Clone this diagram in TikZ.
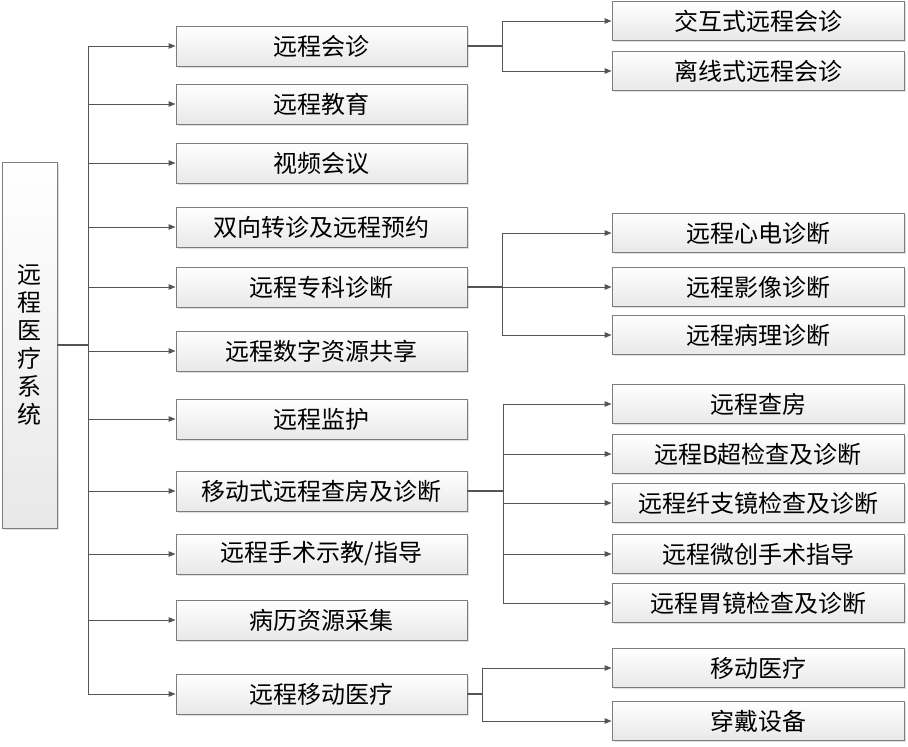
\documentclass[tikz,border=0pt]{standalone}
\usepackage{fontspec}
\newfontfamily\cjk{Noto Sans CJK SC}
\usetikzlibrary{arrows.meta,shadows}
\definecolor{cline}{RGB}{85,85,85}
\definecolor{cedge}{RGB}{125,125,125}
\tikzset{item/.style={draw=cedge,line width=0.9pt,top color=white,bottom color=black!9,
           minimum width=291pt,minimum height=40pt,inner sep=0pt,
           font=\cjk\fontsize{24}{28}\selectfont,
           drop shadow={shadow xshift=1.5pt,shadow yshift=-1.5pt,opacity=0.25}}}
\tikzset{link/.style={cline,line width=1pt,-{Triangle[length=7pt,width=5.5pt]}},
         trunk/.style={cline,line width=1.1pt}}

\begin{document}
\begin{tikzpicture}[x=1pt,y=-1pt]
    \useasboundingbox (0,0) rectangle (908,747);
    % root
    \node[item,minimum width=55pt,minimum height=366pt,align=center] (root) at (29.5,345)
        {远\\程\\医\\疗\\系\\统};
    % first level
    \foreach \y/\nm/\txt in {46/a/远程会诊, 104/b/远程教育, 163/c/视频会议,
        227/d/双向转诊及远程预约, 287/e/远程专科诊断, 351/f/远程数字资源共享,
        419/g/远程监护, 491/h/移动式远程查房及诊断, 554/i/{远程手术示教/指导},
        620/j/病历资源采集, 694/k/远程移动医疗}
      \node[item] (\nm) at (321.5,\y) {\txt};
    % second level
    \foreach \y/\nm/\txt in {21/a1/交互式远程会诊, 71/a2/离线式远程会诊,
        233/e1/远程心电诊断, 287/e2/远程影像诊断, 335/e3/远程病理诊断,
        404/h1/远程查房, 454/h2/远程B超检查及诊断, 503/h3/远程纤支镜检查及诊断,
        554/h4/远程微创手术指导, 603/h5/远程胃镜检查及诊断,
        668/k1/移动医疗, 721/k2/穿戴设备}
      \node[item,minimum width=292pt,minimum height=39pt] (\nm) at (758,\y) {\txt};
    % connectors
    \draw[trunk,line width=1.4pt] (root.east) -- ++(31,0) coordinate (t0);
    \draw[trunk] (t0 |- a.west) -- (t0 |- k.west);
    \foreach \nm in {a,b,c,d,e,f,g,h,i,j,k}
      \draw[link] (t0 |- \nm.west) -- (\nm.west);
    \draw[trunk] (a.east) -- ++(35,0) coordinate (ta);
    \draw[trunk] (ta |- a1.west) -- (ta |- a2.west);
    \foreach \nm in {a1,a2} \draw[link] (ta |- \nm.west) -- (\nm.west);
    \draw[trunk] (e.east) -- ++(35,0) coordinate (te);
    \draw[trunk] (te |- e1.west) -- (te |- e3.west);
    \foreach \nm in {e1,e2,e3} \draw[link] (te |- \nm.west) -- (\nm.west);
    \draw[trunk] (h.east) -- ++(36,0) coordinate (th);
    \draw[trunk] (th |- h1.west) -- (th |- h5.west);
    \foreach \nm in {h1,h2,h3,h4,h5} \draw[link] (th |- \nm.west) -- (\nm.west);
    \draw[trunk] (k.east) -- ++(15,0) coordinate (tk);
    \draw[trunk] (tk |- k1.west) -- (tk |- k2.west);
    \foreach \nm in {k1,k2} \draw[link] (tk |- \nm.west) -- (\nm.west);
\end{tikzpicture}
\end{document}
